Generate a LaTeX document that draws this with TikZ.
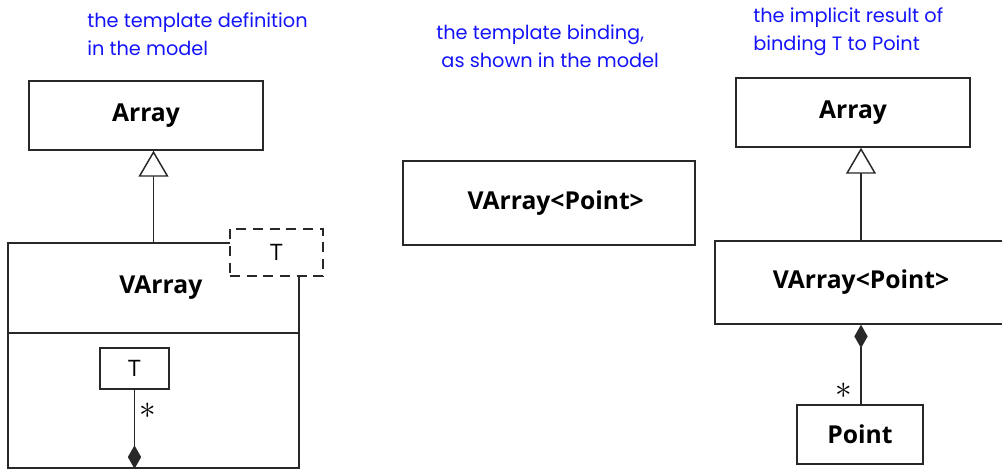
\documentclass[tikz,border=0pt]{standalone}
\usepackage{fontspec}
\setmainfont{Open Sans}
\newfontfamily\bluefont{Poppins}
\usetikzlibrary{arrows.meta,calc}
\definecolor{noteblue}{RGB}{20,20,250}
\definecolor{linegray}{RGB}{40,40,40}
\begin{document}
\begin{tikzpicture}[x=0.75pt,y=-0.75pt,
  box/.style={draw=linegray,line width=1.1pt,fill=white,inner sep=0pt},
  cls/.style={box,font=\bfseries\fontsize{18.5}{22}\selectfont},
  par/.style={font=\fontsize{17}{20}\selectfont},
  note/.style={text=noteblue,align=left,anchor=base west,inner sep=0pt,font=\bluefont\fontsize{14.5}{21}\selectfont},
  conn/.style={draw=linegray,line width=1.1pt},
  gen/.style={conn,-{Triangle[open,fill=white,length=19.5pt,width=22.5pt]}},
  comp/.style={conn,-{Diamond[length=17.5pt,width=10pt]}},
  mult/.style={inner sep=0pt,font=\fontsize{26}{28}\selectfont}]
\useasboundingbox (0,0) rectangle (1002,469);
\clip (0,0) rectangle (1002,469);

% notes
\node[note] (n1) at (87,55) {the template definition\\in the model};
\node[note] (n2) at (436,67) {the template binding,\\\ as shown in the model};
\node[note] (n3) at (753,50) {the implicit result of\\binding T to Point};

% left: template definition
\node[cls,minimum width=234pt*0.75,minimum height=69pt*0.75] (larray) at (146,115.5) {Array};
\node[cls,minimum width=291pt*0.75,minimum height=90pt*0.75] (lvarray) at (153.5,288) {\hspace*{11pt}VArray};
\node[box,minimum width=291pt*0.75,minimum height=135pt*0.75] (lbody) at (153.5,400.5) {};
\node[box,par,minimum width=69pt*0.75,minimum height=41pt*0.75] (innerT) at (134.5,368.5) {T};
\node[box,par,dashed,dash pattern=on 7.5pt off 5pt,minimum width=93pt*0.75,minimum height=47pt*0.75] (tparam) at (276.5,252.5) {T};
\draw[gen] (lvarray.north) -- (lvarray.north |- larray.south);
\coordinate (ldiam) at (innerT.south |- lbody.south);
\draw[comp] (innerT.south) -- (ldiam);
\node[mult] (lm) at (148,411) {$\ast$};

% middle: binding
\node[cls,minimum width=292pt*0.75,minimum height=84pt*0.75] (mbind) at (549,203) {\hspace*{10pt}VArray<Point>};

% right: implicit result
\node[cls,minimum width=234pt*0.75,minimum height=69pt*0.75] (rarray) at (853,112.5) {Array};
\node[cls,minimum width=292pt*0.75,minimum height=83pt*0.75] (rvarray) at (861,282.5) {VArray<Point>};
\node[cls,minimum width=126pt*0.75,minimum height=59pt*0.75] (point) at (860,434.5) {Point};
\draw[gen] (rvarray.north) -- (rvarray.north |- rarray.south);
\draw[comp] (point.north -| rvarray.south) -- (rvarray.south);
\node[mult] (rm) at (844,391) {$\ast$};
\end{tikzpicture}
\end{document}
